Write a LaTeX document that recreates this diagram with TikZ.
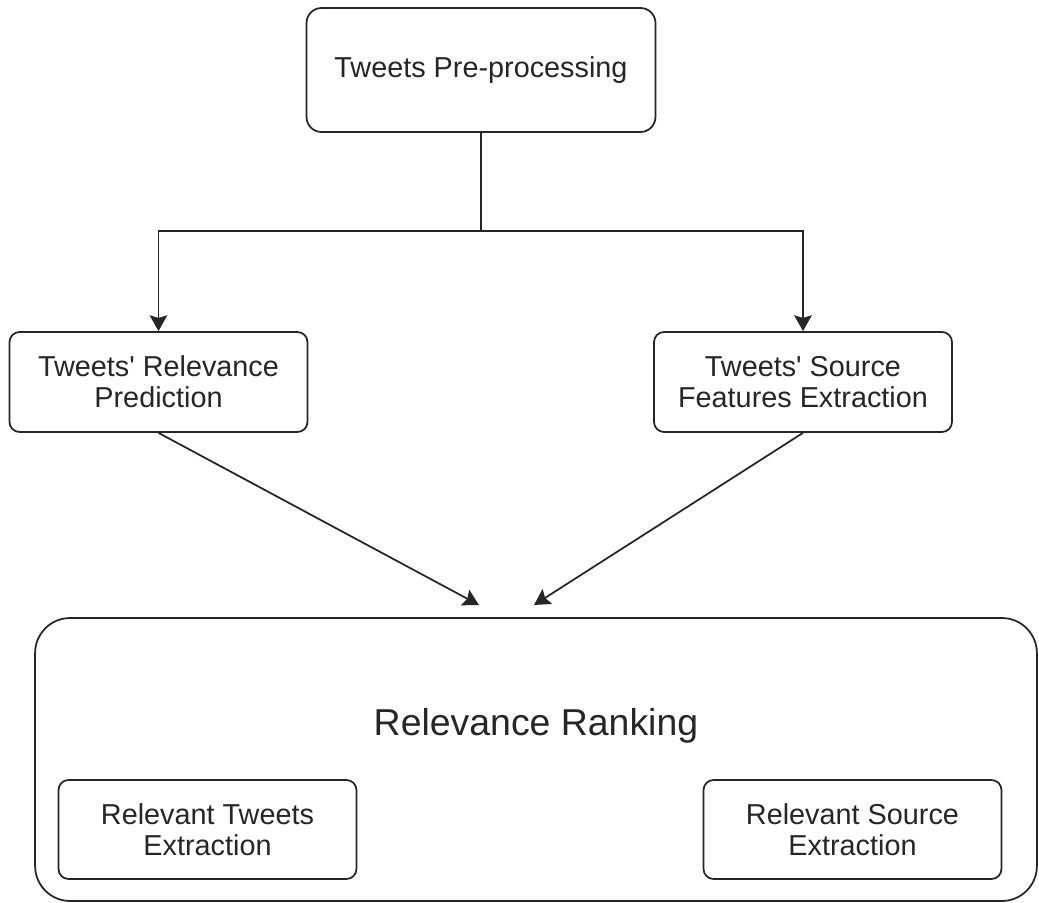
\documentclass[tikz,border=0pt]{standalone}
\usepackage{fontspec}
\setmainfont{Liberation Sans}
\usepackage{xcolor}
\usetikzlibrary{arrows.meta, positioning}

\begin{document}
\begin{tikzpicture}[
    x=0.02cm, y=-0.02cm,
    every node/.style={font=\fontsize{16.4}{17.7}\selectfont, align=center, text=black!85},
    procbox/.style={rectangle, draw=black!85, rounded corners=0.2cm, minimum width=5.96cm, minimum height=2cm, line width=1pt, inner sep=0pt},
    arrow/.style={-{Stealth[length=9pt, width=10pt, inset=1.5pt]}, line width=1pt, draw=black!85}
]
\useasboundingbox (0,0) rectangle (1039,903);

% Steps
\node (pre) [procbox, rounded corners=0.3cm, minimum width=6.98cm, minimum height=2.48cm] at (481,70) {Tweets Pre-processing};
\node (relpred) [procbox] at (158.5,382) {Tweets\textquotesingle\ Relevance\\Prediction};
\node (srcfeat) [procbox] at (803,382) {Tweets\textquotesingle\ Source\\Features Extraction};

% Ranking block
\node (ranking) [procbox, rounded corners=0.7cm, minimum width=20.04cm, minimum height=5.66cm] at (536,759.5) {};
\node (title) [font=\fontsize{21.3}{24}\selectfont, anchor=base] at (536,735) {Relevance Ranking};
\node (reltweets) [procbox, minimum height=1.98cm] at (207.5,829.5) {Relevant Tweets\\Extraction};
\node (relsource) [procbox, minimum height=1.98cm] at (852.5,829.5) {Relevant Source\\Extraction};

% Arrows
\coordinate (split) at (481,231);
\coordinate (tipL) at (479,605);
\coordinate (tipR) at (534,605);
\draw [line width=1pt, draw=black!85] (pre.south) -- (split);
\draw [arrow] (split) -| (relpred.north);
\draw [arrow] (split) -| (srcfeat.north);
\draw [arrow] (relpred.south) -- (tipL);
\draw [arrow] (srcfeat.south) -- (tipR);

\end{tikzpicture}
\end{document}
